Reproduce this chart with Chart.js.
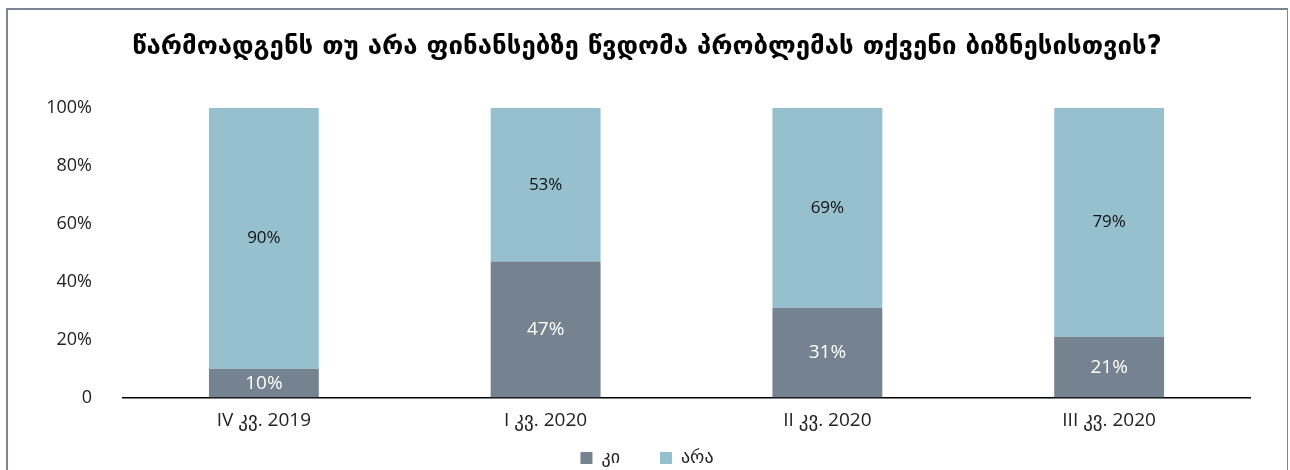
<!DOCTYPE html>
<html>
<head>
<meta charset="utf-8">
<script src="https://cdn.jsdelivr.net/npm/chart.js@4"></script>
<style>
  body { margin: 0; background: #fff; }
  #frame {
    position: absolute; left: 6px; top: 8px; width: 1279px; height: 480px;
    border: 2px solid #7b8794; border-right-width: 1px;
  }
  #myChart { position: absolute; left: 0; top: 0; }
</style>
</head>
<body>
<div id="frame"></div>
<canvas id="myChart" width="1290" height="470"></canvas>
<script>
// Chart data
const quarters = ["IV კვ. 2019", "I კვ. 2020", "II კვ. 2020", "III კვ. 2020"];
const yesValues = [10, 47, 31, 21];
const noValues = [90, 53, 69, 79];
const seriesNames = ["კი", "არა"];
const titleText = "წარმოადგენს თუ არა ფინანსებზე წვდომა პრობლემას თქვენი ბიზნესისთვის?";

const fontFamily = "'Open Sans', 'DejaVu Sans', sans-serif";

// draw value labels in the middle of each bar segment
const barLabels = {
  id: "barLabels",
  afterDatasetsDraw(chart) {
    const c = chart.ctx;
    chart.data.datasets.forEach((ds, i) => {
      const meta = chart.getDatasetMeta(i);
      meta.data.forEach((bar, j) => {
        const y = (bar.y + bar.base) / 2;
        c.save();
        c.fillStyle = i === 0 ? "#ffffff" : "#111111";
        c.font = (i === 0 ? "19px " : "17px ") + fontFamily;
        c.textAlign = "center";
        c.textBaseline = "middle";
        c.fillText(ds.data[j] + "%", bar.x, y);
        c.restore();
      });
    });
  },
};

const ctx = document.getElementById("myChart");
new Chart(ctx, {
  type: "bar",
  data: {
    labels: quarters,
    datasets: [
      {
        label: seriesNames[0],
        data: yesValues,
        backgroundColor: "#75828f",
        barPercentage: 0.39,
        categoryPercentage: 1,
      },
      {
        label: seriesNames[1],
        data: noValues,
        backgroundColor: "#97c0cf",
        barPercentage: 0.39,
        categoryPercentage: 1,
      },
    ],
  },
  options: {
    responsive: false,
    animation: false,
    layout: { padding: { left: 44, right: 40, top: 10, bottom: -7 } },
    plugins: {
      title: {
        display: true,
        text: titleText,
        color: "#000",
        font: { family: "'DejaVu Sans', sans-serif", size: 25.8, weight: "bold" },
        padding: { top: 22, bottom: 45 },
      },
      legend: {
        position: "bottom",
        labels: {
          boxWidth: 12,
          boxHeight: 12,
          color: "#222",
          font: { family: fontFamily, size: 18 },
          padding: 4,
          // extra space after the first entry, like the original legend
          generateLabels: (chart) =>
            Chart.defaults.plugins.legend.labels
              .generateLabels(chart)
              .map((l, i) => (i === 0 ? { ...l, text: l.text + "\u2003\u2003" } : l)),
        },
      },
      tooltip: { enabled: false },
    },
    scales: {
      x: {
        stacked: true,
        grid: { display: false },
        border: { color: "#000", width: 1.5 },
        ticks: { color: "#222", font: { family: fontFamily, size: 19 }, padding: 4 },
        afterFit: (s) => { s.height += 8.6; },
      },
      y: {
        stacked: true,
        min: 0,
        max: 100,
        grid: { display: false },
        border: { display: false },
        ticks: {
          stepSize: 20,
          padding: 23,
          color: "#222",
          font: { family: fontFamily, size: 18 },
          callback: (v) => (v === 0 ? "0" : v + "%"),
        },
        afterFit: (s) => { s.width = 79; },
      },
    },
  },
  plugins: [barLabels],
});
</script>
</body>
</html>
